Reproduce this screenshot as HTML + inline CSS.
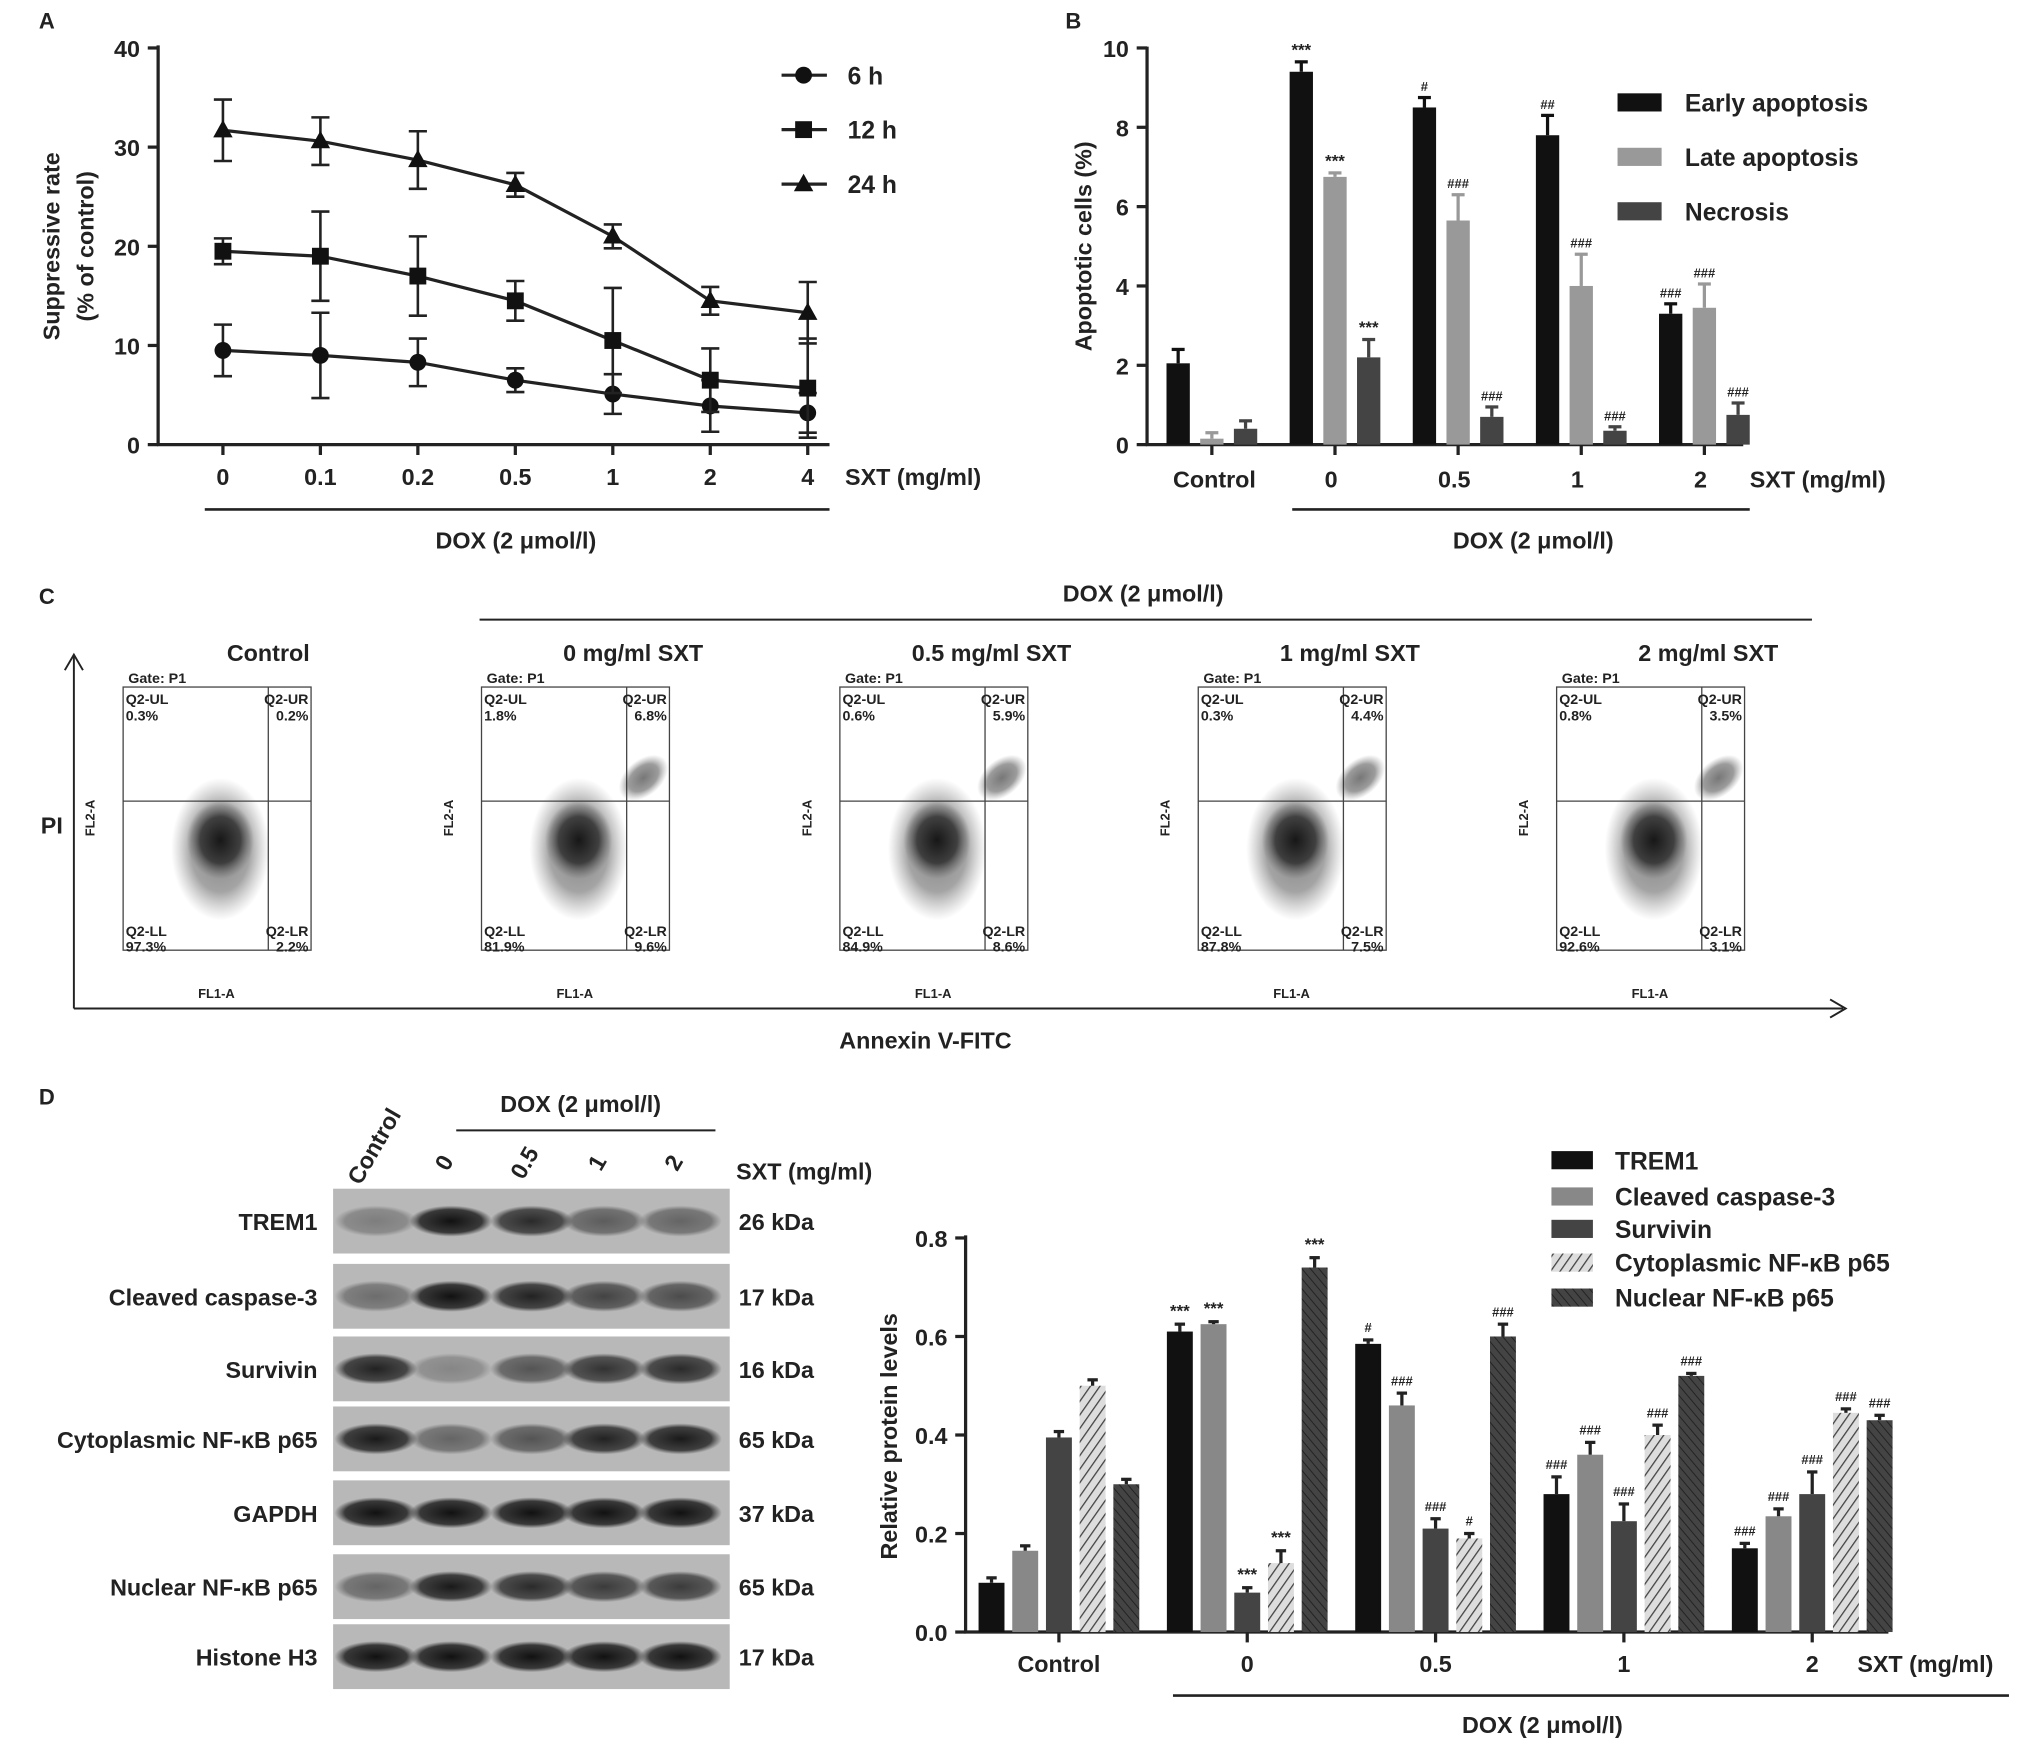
<!DOCTYPE html>
<html><head><meta charset="utf-8">
<style>
html,body{margin:0;padding:0;background:#fff;}
svg{display:block;}
text{font-family:"Liberation Sans",Arial,sans-serif;font-weight:bold;fill:#222;}
</style></head>
<body>
<svg id="fig" xmlns="http://www.w3.org/2000/svg" width="2031" height="1750" viewBox="0 0 1567 1350" preserveAspectRatio="none">
<defs>
<pattern id="hatchLight" patternUnits="userSpaceOnUse" width="6" height="6" patternTransform="rotate(35)">
<rect width="6" height="6" fill="#ddd"/><line x1="0" y1="0" x2="0" y2="6" stroke="#444" stroke-width="2"/></pattern>
<pattern id="hatchDark" patternUnits="userSpaceOnUse" width="5" height="5" patternTransform="rotate(-40)">
<rect width="5" height="5" fill="#444"/><line x1="0" y1="0" x2="0" y2="5" stroke="#222" stroke-width="1.5"/></pattern>
<radialGradient id="cloud"><stop offset="0" stop-color="#111" stop-opacity="0.95"/><stop offset="0.6" stop-color="#222" stop-opacity="0.75"/><stop offset="1" stop-color="#555" stop-opacity="0"/></radialGradient>
<radialGradient id="band"><stop offset="0" stop-color="#111"/><stop offset="0.75" stop-color="#222" stop-opacity="0.85"/><stop offset="1" stop-color="#333" stop-opacity="0"/></radialGradient>
</defs>
<g id="root"></g>
</svg>
<script>
// ---------- DATA ----------
const catsA = ["0","0.1","0.2","0.5","1","2","4"];
const a6 = [9.5,9.0,8.3,6.5,5.1,3.9,3.2];
const a6err = [2.6,4.3,2.4,1.2,2.0,2.6,2.0];
const a12 = [19.5,19.0,17.0,14.5,10.5,6.5,5.7];
const a12err = [1.3,4.5,4.0,2.0,5.3,3.2,5.0];
const a24 = [31.7,30.6,28.7,26.2,21.0,14.5,13.3];
const a24err = [3.1,2.4,2.9,1.2,1.2,1.4,3.1];
const ticksA = [0,10,20,30,40];

const catsB = ["Control","0","0.5","1","2"];
const bEarly = [2.05,9.4,8.5,7.8,3.3];
const bEarlyErr = [0.35,0.25,0.25,0.5,0.25];
const bLate = [0.15,6.75,5.65,4.0,3.45];
const bLateErr = [0.15,0.1,0.65,0.8,0.6];
const bNec = [0.4,2.2,0.7,0.35,0.75];
const bNecErr = [0.2,0.45,0.25,0.1,0.3];
const bEarlySig = ["","***","#","##","###"];
const bLateSig = ["","***","###","###","###"];
const bNecSig = ["","***","###","###","###"];
const ticksB = [0,2,4,6,8,10];

const catsD = ["Control","0","0.5","1","2"];
const dTrem = [0.10,0.61,0.585,0.28,0.17];
const dTremErr = [0.01,0.015,0.008,0.035,0.01];
const dCasp = [0.165,0.625,0.46,0.36,0.235];
const dCaspErr = [0.01,0.005,0.025,0.025,0.015];
const dSurv = [0.395,0.08,0.21,0.225,0.28];
const dSurvErr = [0.012,0.01,0.02,0.035,0.045];
const dCyto = [0.50,0.14,0.19,0.40,0.445];
const dCytoErr = [0.012,0.025,0.01,0.02,0.008];
const dNuc = [0.30,0.74,0.60,0.52,0.43];
const dNucErr = [0.01,0.02,0.025,0.005,0.01];
const dTremSig = ["","***","#","###","###"];
const dCaspSig = ["","***","###","###","###"];
const dSurvSig = ["","***","###","###","###"];
const dCytoSig = ["","***","#","###","###"];
const dNucSig = ["","***","###","###","###"];
const ticksD = [0.0,0.2,0.4,0.6,0.8];

const flowTitles = ["Control","0 mg/ml  SXT","0.5 mg/ml  SXT","1 mg/ml  SXT","2 mg/ml  SXT"];
const flowUL = ["0.3%","1.8%","0.6%","0.3%","0.8%"];
const flowUR = ["0.2%","6.8%","5.9%","4.4%","3.5%"];
const flowLL = ["97.3%","81.9%","84.9%","87.8%","92.6%"];
const flowLR = ["2.2%","9.6%","8.6%","7.5%","3.1%"];

const blotNames = ["TREM1","Cleaved caspase-3","Survivin","Cytoplasmic NF-κB p65","GAPDH","Nuclear NF-κB p65","Histone H3"];
const blotKda = ["26 kDa","17 kDa","16 kDa","65 kDa","37 kDa","65 kDa","17 kDa"];
const blotInt = [[0.35,1,0.85,0.55,0.5],[0.45,1,0.9,0.7,0.65],[0.9,0.3,0.6,0.8,0.85],[0.95,0.5,0.6,0.9,0.95],[1,1,1,1,1],[0.5,0.95,0.85,0.75,0.75],[1,1,1,1,1]];

// ---------- HELPERS ----------
const NS="http://www.w3.org/2000/svg";
const root=document.getElementById('root');
function mk(tag,attrs,parent){const e=document.createElementNS(NS,tag);for(const k in attrs)e.setAttribute(k,attrs[k]);(parent||root).appendChild(e);return e;}
function tx(x,y,s,size,anchor,parent,extra){const e=mk('text',Object.assign({x:x,y:y,'font-size':size,'text-anchor':anchor||'start'},extra||{}),parent);e.textContent=s;return e;}
function ln(x1,y1,x2,y2,w,parent,col){return mk('line',{x1:x1,y1:y1,x2:x2,y2:y2,stroke:col||'#222','stroke-width':w||2},parent);}

// ---------- PANEL A ----------
const gA=mk('g',{});


const xA=i=>172+i*75.2;
const yA=v=>343-v*7.65;
let t=tx(30,22,'A',17,'start',gA);


ln(122,35,122,344,2.5,gA);ln(121,343,640,343,2.5,gA);
ticksA.forEach(v=>{ln(114,yA(v),122,yA(v),2.5,gA);const l=tx(108,yA(v)+7,String(v),18,'end',gA);

});
catsA.forEach((c,i)=>{ln(xA(i),343,xA(i),351,2.5,gA);const l=tx(xA(i),374,c,18,'middle',gA);

});
t=tx(652,374,'SXT (mg/ml)',18,'start',gA);


ln(158,393,640,393,2,gA);
t=tx(398,423,'DOX (2 μmol/l)',18,'middle',gA);


t=tx(0,0,'Suppressive rate',18,'middle',gA,{transform:'translate(46,190) rotate(-90)'});


t=tx(0,0,'(% of control)',18,'middle',gA,{transform:'translate(72,190) rotate(-90)'});


function marker(type,x,y,g){
 if(type==='c')return mk('circle',{cx:x,cy:y,r:6.5,fill:'#111'},g);
 if(type==='s')return mk('rect',{x:x-6.5,y:y-6.5,width:13,height:13,fill:'#111'},g);
 return mk('polygon',{points:`${x},${y-8} ${x+7.5},${y+5.5} ${x-7.5},${y+5.5}`,fill:'#111'},g);
}
[[a6,a6err,'c','series-6h'],[a12,a12err,'s','series-12h'],[a24,a24err,'t','series-24h']].forEach(([vals,errs,m,name])=>{
 const g=mk('g',{},gA);
 
 
 const p=mk('polyline',{points:vals.map((v,i)=>xA(i)+','+yA(v)).join(' '),fill:'none',stroke:'#222','stroke-width':2.5},g);
 
 
 vals.forEach((v,i)=>{const x=xA(i);
  ln(x,yA(v-errs[i]),x,yA(v+errs[i]),2,g);ln(x-7,yA(v+errs[i]),x+7,yA(v+errs[i]),2,g);ln(x-7,yA(v-errs[i]),x+7,yA(v-errs[i]),2,g);
  const mm=marker(m,x,yA(v),g);
  
  });
});
[['c','6 h',58],['s','12 h',100],['t','24 h',142]].forEach(([m,l,y])=>{
 const g=mk('g',{},gA);
 
 
 ln(603,y,638,y,2.5,g);marker(m,620,y,g);tx(654,y+7,l,19,'start',g);
});

// ---------- PANEL B ----------
const gB=mk('g',{});


const xB=i=>935+i*95;
const yB=v=>343-v*30.6;
t=tx(822,22,'B',17,'start',gB);


ln(885,36,885,344,2.5,gB);ln(884,343,1345,343,2.5,gB);
ticksB.forEach(v=>{ln(877,yB(v),885,yB(v),2.5,gB);const l=tx(871,yB(v)+7,String(v),18,'end',gB);

});
catsB.forEach((c,i)=>{ln(xB(i),343,xB(i),351,2.5,gB);const l=tx(xB(i)+(i==0?2:-3),376,c,18,'middle',gB);

});
t=tx(1350,376,'SXT (mg/ml)',18,'start',gB);


ln(997,393,1350,393,2,gB);
t=tx(1183,423,'DOX (2 μmol/l)',18,'middle',gB);


t=tx(0,0,'Apoptotic cells (%)',18,'middle',gB,{transform:'translate(842,190) rotate(-90)'});


[[bEarly,bEarlyErr,bEarlySig,'#111',-26,'bar-early'],[bLate,bLateErr,bLateSig,'#999',0,'bar-late'],[bNec,bNecErr,bNecSig,'#444',26,'bar-necrosis']].forEach(([vals,errs,sig,col,off,name])=>{
 vals.forEach((v,i)=>{const x=xB(i)+off;
  const r=mk('rect',{x:x-9,y:yB(v),width:18,height:343-yB(v),fill:col},gB);
  
  
  ln(x,yB(v),x,yB(v+errs[i]),2.5,gB,col);ln(x-5,yB(v+errs[i]),x+5,yB(v+errs[i]),2.5,gB,col);
  if(sig[i]){tx(x,yB(v+errs[i])-5,sig[i],sig[i]==='***'?13:10,'middle',gB,{'font-weight':'normal'});}
 });
});
[['#111','Early apoptosis',79],['#999','Late apoptosis',121],['#444','Necrosis',163]].forEach(([c,l,y])=>{
 const g=mk('g',{},gB);
 
 
 mk('rect',{x:1248,y:y-7,width:34,height:14,fill:c},g);tx(1300,y+7,l,19,'start',g);
});

// ---------- PANEL C ----------
const gC=mk('g',{});


t=tx(30,466,'C',17,'start',gC);


t=tx(882,464,'DOX (2 μmol/l)',18,'middle',gC);


ln(370,478,1398,478,1.5,gC);
ln(57,778,1422,778,1.5,gC);mk('polyline',{points:'1412,771 1424,778 1412,785',fill:'none',stroke:'#222','stroke-width':1.5},gC);
ln(57,778,57,506,1.5,gC);mk('polyline',{points:'50,517 57,505 64,517',fill:'none',stroke:'#222','stroke-width':1.5},gC);
t=tx(40,643,'PI',18,'middle',gC);


t=tx(714,809,'Annexin V-FITC',18,'middle',gC);


flowTitles.forEach((ti,k)=>{
 const x0=95+k*276.5;
 const g=mk('g',{},gC);
 
 
 tx(x0+(k==0?112:117),510,ti,18,'middle',g);
 tx(x0+4,527,'Gate: P1',11,'start',g,{'font-weight':'normal'});
 mk('rect',{x:x0,y:530,width:145,height:203,fill:'none',stroke:'#444','stroke-width':1},g);
 ln(x0+112,530,x0+112,733,1,g,'#444');ln(x0,618,x0+145,618,1,g,'#444');
 mk('ellipse',{cx:x0+75,cy:655,rx:38,ry:55,fill:'url(#cloud)',opacity:0.55},g);
 mk('ellipse',{cx:x0+75,cy:648,rx:26,ry:30,fill:'url(#cloud)'},g);
 if(k>0){mk('ellipse',{cx:x0+125,cy:600,rx:22,ry:14,fill:'url(#cloud)',opacity:0.6,transform:`rotate(-40 ${x0+125} 600)`},g);}
 tx(x0+2,543,'Q2-UL',11,'start',g,{'font-weight':'normal'});tx(x0+2,556,flowUL[k],11,'start',g,{'font-weight':'normal'});
 tx(x0+143,543,'Q2-UR',11,'end',g,{'font-weight':'normal'});tx(x0+143,556,flowUR[k],11,'end',g,{'font-weight':'normal'});
 tx(x0+2,722,'Q2-LL',11,'start',g,{'font-weight':'normal'});tx(x0+2,734,flowLL[k],11,'start',g,{'font-weight':'normal'});
 tx(x0+143,722,'Q2-LR',11,'end',g,{'font-weight':'normal'});tx(x0+143,734,flowLR[k],11,'end',g,{'font-weight':'normal'});
 tx(x0+72,770,'FL1-A',10,'middle',g,{'font-weight':'normal'});
 tx(0,0,'FL2-A',10,'middle',g,{'font-weight':'normal',transform:`translate(${x0-22},631) rotate(-90)`});
});

// ---------- PANEL D BLOT ----------
const gW=mk('g',{});


t=tx(30,852,'D',17,'start',gW);


t=tx(448,858,'DOX (2 μmol/l)',18,'middle',gW);


ln(352,872,552,872,1.5,gW);
const laneX=[290,348,410,466,525];
const laneLab=['Control','0','0.5','1','2'];
laneLab.forEach((l,i)=>{const e=tx(0,0,l,18,i==0?'start':'middle',gW,{transform:`translate(${laneX[i]-(i==0?12:0)},${i==0?915:900}) rotate(-60)`});

});
t=tx(568,910,'SXT (mg/ml)',18,'start',gW);


const rowY=[942,1000,1056,1110,1167,1224,1278];
blotNames.forEach((n,r)=>{
 const g=mk('g',{},gW);
 
 
 mk('rect',{x:257,y:rowY[r]-25,width:306,height:50,fill:'#b8b8b8'},g);
 tx(245,rowY[r]+7,n,18,'end',g);
 tx(570,rowY[r]+7,blotKda[r],18,'start',g);
 blotInt[r].forEach((v,i)=>{mk('ellipse',{cx:laneX[i],cy:rowY[r],rx:32,ry:12,fill:'url(#band)',opacity:v},g);});
});

// ---------- PANEL D BAR CHART ----------
const gD=mk('g',{});


const xD=i=>817+i*145.3;
const yD=v=>1259-v*380;
ln(745,953,745,1260,2.5,gD);ln(744,1259,1457,1259,2.5,gD);
ticksD.forEach(v=>{ln(737,yD(v),745,yD(v),2.5,gD);const l=tx(731,yD(v)+7,v.toFixed(1),18,'end',gD);

});
catsD.forEach((c,i)=>{ln(xD(i),1259,xD(i),1267,2.5,gD);const l=tx(xD(i),1290,c,18,'middle',gD);

});
t=tx(1433,1290,'SXT (mg/ml)',18,'start',gD);


ln(905,1308,1550,1308,2,gD);
t=tx(1190,1337,'DOX (2 μmol/l)',18,'middle',gD);


t=tx(0,0,'Relative protein levels',18,'middle',gD,{transform:'translate(692,1108) rotate(-90)'});


[[dTrem,dTremErr,dTremSig,'#111',-52,'bar-trem1'],[dCasp,dCaspErr,dCaspSig,'#888',-26,'bar-cleaved-caspase3'],[dSurv,dSurvErr,dSurvSig,'#444',0,'bar-survivin'],[dCyto,dCytoErr,dCytoSig,'url(#hatchLight)',26,'bar-cyto-nfkb'],[dNuc,dNucErr,dNucSig,'url(#hatchDark)',52,'bar-nuclear-nfkb']].forEach(([vals,errs,sig,col,off,name])=>{
 vals.forEach((v,i)=>{const x=xD(i)+off;
  const r=mk('rect',{x:x-10,y:yD(v),width:20,height:1259-yD(v),fill:col},gD);
  
  
  ln(x,yD(v),x,yD(v+errs[i]),2.5,gD,'#222');ln(x-4,yD(v+errs[i]),x+4,yD(v+errs[i]),2.5,gD,'#222');
  if(sig[i]){tx(x,yD(v+errs[i])-6,sig[i],sig[i]==='***'?13:10,'middle',gD,{'font-weight':'normal'});}
 });
});
[['#111','TREM1',895],['#888','Cleaved caspase-3',923],['#444','Survivin',948],['url(#hatchLight)','Cytoplasmic NF-κB p65',974],['url(#hatchDark)','Nuclear NF-κB p65',1001]].forEach(([c,l,y])=>{
 const g=mk('g',{},gD);
 
 
 mk('rect',{x:1197,y:y-7,width:32,height:14,fill:c},g);tx(1246,y+7,l,19,'start',g);
});
</script>
</body></html>
